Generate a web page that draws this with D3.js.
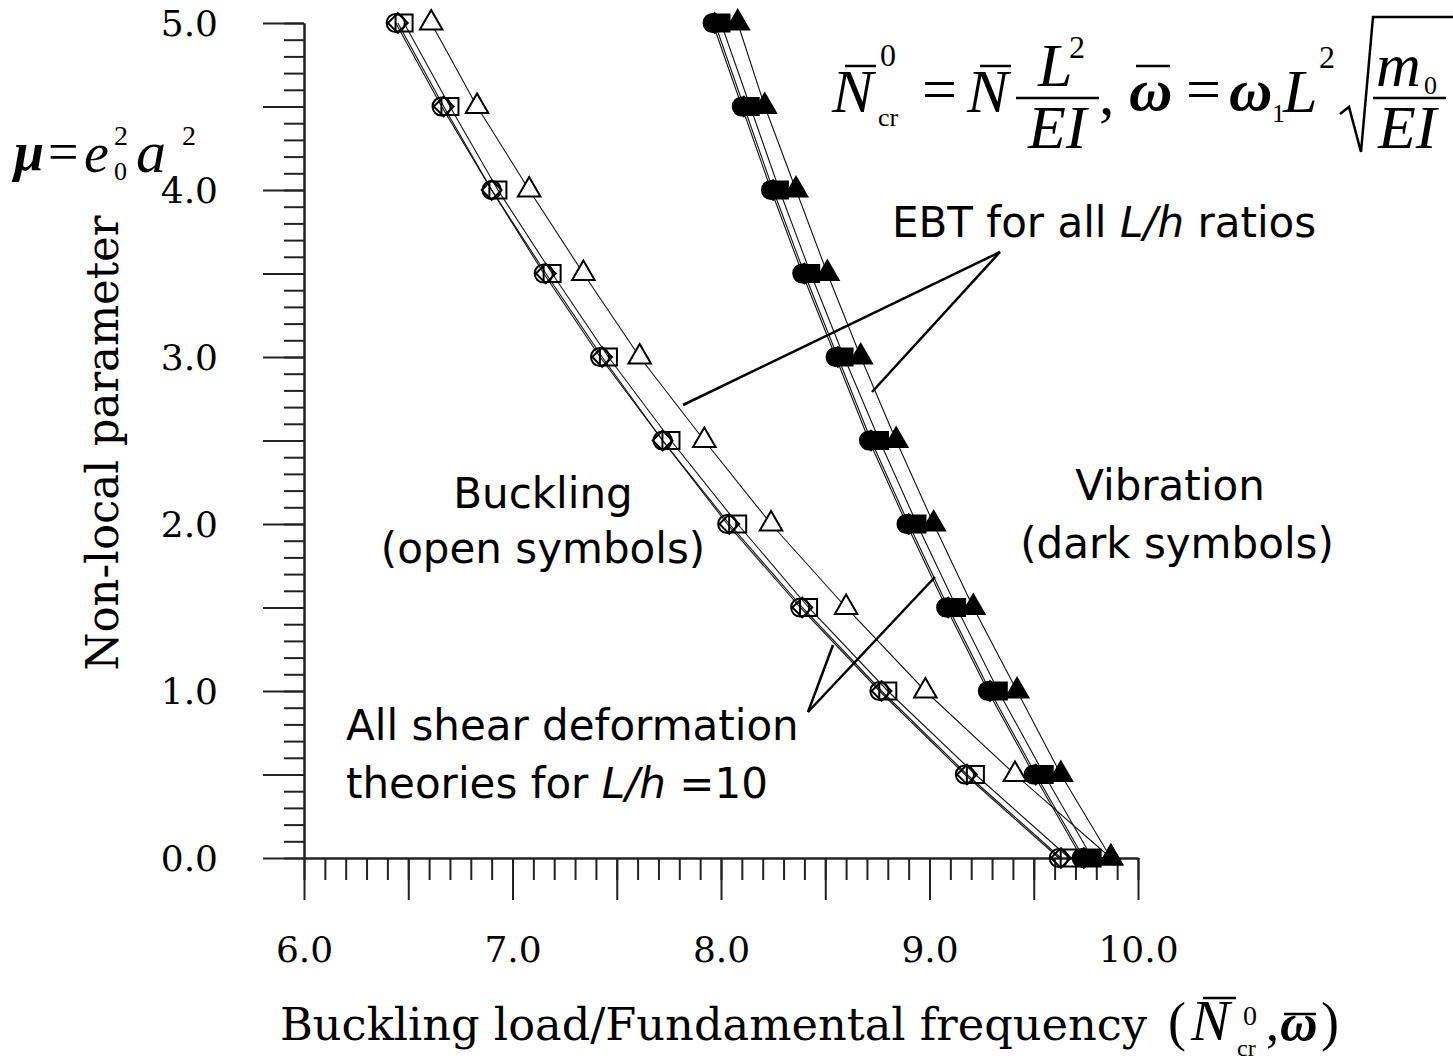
<!DOCTYPE html>
<html>
<head>
<meta charset="utf-8">
<script src="https://cdn.jsdelivr.net/npm/d3@7"></script>
<style>
body { margin: 0; background: #fff; }
</style>
</head>
<body>
<svg width="1453" height="1061"></svg>
<script>
// non-local parameter mu = e0^2 a^2
var mu = [0, 0.5, 1, 1.5, 2, 2.5, 3, 3.5, 4, 4.5, 5];

// buckling loads (open symbols)
var buckTBT = [9.62, 9.17, 8.76, 8.38, 8.03, 7.72, 7.42, 7.15, 6.90, 6.66, 6.44];
var buckRBT = [9.63, 9.18, 8.77, 8.39, 8.04, 7.72, 7.43, 7.16, 6.90, 6.67, 6.45];
var buckLBT = [9.67, 9.22, 8.80, 8.42, 8.08, 7.76, 7.46, 7.19, 6.93, 6.70, 6.48];
var buckEBT = [9.87, 9.41, 8.98, 8.60, 8.24, 7.92, 7.61, 7.34, 7.08, 6.83, 6.61];

// fundamental frequencies (dark symbols)
var vibTBT = [9.73, 9.50, 9.28, 9.08, 8.89, 8.71, 8.55, 8.39, 8.24, 8.10, 7.96];
var vibRBT = [9.74, 9.51, 9.29, 9.09, 8.90, 8.72, 8.56, 8.40, 8.25, 8.11, 7.97];
var vibLBT = [9.78, 9.55, 9.33, 9.13, 8.94, 8.76, 8.59, 8.43, 8.28, 8.14, 8.00];
var vibEBT = [9.87, 9.63, 9.42, 9.21, 9.02, 8.84, 8.67, 8.51, 8.36, 8.21, 8.08];

var xLabels = [6, 7, 8, 9, 10];
var yLabels = [0, 1, 2, 3, 4, 5];

var svg = d3.select("svg");
var x = d3.scaleLinear().domain([6, 10]).range([304, 1138]);
var y = d3.scaleLinear().domain([0, 5]).range([858, 23]);

var serif = "'DejaVu Serif', serif";
var mathf = "'Liberation Serif', 'Times New Roman', serif";
var sans = "'DejaVu Sans', Verdana, sans-serif";

// ---- axes ----
var xMinor = d3.range(41).map(function (i) { return 6 + i / 10; });
var xMajor = d3.range(9).map(function (i) { return 6 + i * 0.5; });
var yMinor = d3.range(51).map(function (i) { return i / 10; });
var yMajor = d3.range(11).map(function (i) { return i * 0.5; });

function fmtX(d) { return xLabels.indexOf(d) >= 0 ? d.toFixed(1) : ""; }
function fmtY(d) { return yLabels.indexOf(d) >= 0 ? d.toFixed(1) : ""; }

svg.append("g").attr("transform", "translate(0,858)")
    .call(d3.axisBottom(x).tickValues(xMinor).tickSize(22).tickSizeOuter(0).tickFormat(""));
svg.append("g").attr("class", "xmaj").attr("transform", "translate(0,858)")
    .call(d3.axisBottom(x).tickValues(xMajor).tickSize(42).tickSizeOuter(0).tickPadding(36).tickFormat(fmtX));
svg.append("g").attr("transform", "translate(304,0)")
    .call(d3.axisLeft(y).tickValues(yMinor).tickSize(20).tickSizeOuter(0).tickFormat(""));
svg.append("g").attr("class", "ymaj").attr("transform", "translate(304,0)")
    .call(d3.axisLeft(y).tickValues(yMajor).tickSize(41).tickSizeOuter(0).tickPadding(45).tickFormat(fmtY));

svg.selectAll(".domain").attr("stroke", "#222").attr("stroke-width", 2);
svg.selectAll(".tick line").attr("stroke", "#222").attr("stroke-width", 2);
svg.selectAll(".tick text").attr("font-family", serif).attr("font-size", 36).attr("fill", "#000");
svg.selectAll(".ymaj .tick text").attr("dy", "0.36em");

// ---- series ----
var series = [
    { vals: buckTBT, type: d3.symbolCircle, size: 260, fill: "none" },
    { vals: buckRBT, type: d3.symbolDiamond2, size: 250, fill: "none" },
    { vals: buckLBT, type: d3.symbolSquare, size: 290, fill: "none" },
    { vals: buckEBT, type: d3.symbolTriangle, size: 220, fill: "#fff" },
    { vals: vibTBT, type: d3.symbolCircle, size: 260, fill: "#000" },
    { vals: vibRBT, type: d3.symbolDiamond2, size: 250, fill: "#000" },
    { vals: vibLBT, type: d3.symbolSquare, size: 290, fill: "#000" },
    { vals: vibEBT, type: d3.symbolTriangle, size: 220, fill: "#000" }
];

var line = d3.line()
    .x(function (d) { return x(d.v); })
    .y(function (d) { return y(d.m); });

function pts(vals) {
    return vals.map(function (v, i) { return { v: v, m: mu[i] }; });
}

svg.append("g").selectAll("path")
    .data(series)
    .enter()
    .append("path")
    .attr("d", function (s) { return line(pts(s.vals)); })
    .attr("fill", "none")
    .attr("stroke", "#111")
    .attr("stroke-width", 1.1);

series.forEach(function (s) {
    svg.append("g").selectAll("path")
        .data(pts(s.vals))
        .enter()
        .append("path")
        .attr("transform", function (d) { return "translate(" + x(d.v) + "," + y(d.m) + ")"; })
        .attr("d", d3.symbol().type(s.type).size(s.size))
        .attr("fill", s.fill)
        .attr("stroke", "#000")
        .attr("stroke-width", 2);
});

// ---- text helpers ----
function txt(px, py, s, opt) {
    opt = opt || {};
    var t = svg.append("text")
        .attr("x", px).attr("y", py)
        .attr("font-family", opt.family || mathf)
        .attr("font-size", opt.size || 54)
        .attr("font-style", opt.style || "normal")
        .attr("font-weight", opt.weight || "normal")
        .attr("text-anchor", opt.anchor || "start")
        .attr("fill", "#000")
        .text(s);
    if (opt.len) t.attr("textLength", opt.len).attr("lengthAdjust", "spacingAndGlyphs");
    return t;
}
function bar(x1, x2, yy, w) {
    svg.append("line").attr("x1", x1).attr("x2", x2).attr("y1", yy).attr("y2", yy)
        .attr("stroke", "#000").attr("stroke-width", w || 2.5);
}

// axis titles
txt(280, 1040, "Buckling load/Fundamental frequency", { family: serif, size: 44, len: 867 });
txt(1168, 1040, "(", { size: 54 });
txt(1191, 1040, "N", { size: 58, style: "italic" });
bar(1203, 1236, 998, 2.5);
txt(1243, 1025, "0", { size: 28 });
txt(1237, 1056, "cr", { size: 24 });
txt(1266, 1040, ",", { size: 52 });
txt(1280, 1040, "\u03c9", { size: 52, style: "italic", weight: "bold" });
bar(1284, 1316, 1014, 2.5);
txt(1321, 1040, ")", { size: 54 });

svg.append("text")
    .attr("transform", "translate(118,443) rotate(-90)")
    .attr("text-anchor", "middle")
    .attr("font-family", serif).attr("font-size", 44)
    .attr("textLength", 455).attr("lengthAdjust", "spacingAndGlyphs")
    .text("Non-local parameter");

// mu = e0^2 a^2
txt(14, 170, "\u03bc", { size: 54, style: "italic", weight: "bold" });
txt(48, 170, "=", { size: 54 });
txt(84, 172, "e", { size: 56, style: "italic" });
txt(114, 145, "2", { size: 28 });
txt(114, 180, "0", { size: 26 });
txt(136, 172, "a", { size: 60, style: "italic" });
txt(182, 145, "2", { size: 28 });

// formula top right
txt(832, 112, "N", { size: 62, style: "italic" });
bar(845, 876, 66, 2.5);
txt(880, 66, "0", { size: 32 });
txt(878, 126, "cr", { size: 26 });
txt(922, 110, "=", { size: 62 });
txt(967, 112, "N", { size: 62, style: "italic" });
bar(980, 1011, 66, 2.5);
txt(1038, 86, "L", { size: 62, style: "italic" });
txt(1069, 58, "2", { size: 32 });
bar(1016, 1099, 98, 2.5);
txt(1028, 148, "EI", { size: 62, style: "italic" });
txt(1099, 114, ",", { size: 62 });
txt(1129, 110, "\u03c9", { size: 60, style: "italic", weight: "bold" });
bar(1136, 1170, 66, 2.5);
txt(1186, 110, "=", { size: 62 });
txt(1229, 110, "\u03c9", { size: 60, style: "italic", weight: "bold" });
txt(1272, 122, "1", { size: 26 });
txt(1283, 112, "L", { size: 62, style: "italic" });
txt(1319, 68, "2", { size: 32 });
svg.append("path")
    .attr("d", "M1340,114 L1349,107 L1361,152 L1373,17 L1453,17")
    .attr("fill", "none").attr("stroke", "#000").attr("stroke-width", 2.5);
txt(1376, 86, "m", { size: 62, style: "italic" });
txt(1424, 94, "0", { size: 26 });
bar(1373, 1446, 98, 2.5);
txt(1378, 148, "EI", { size: 62, style: "italic" });

// annotations
txt(543, 508, "Buckling", { family: sans, size: 42, anchor: "middle" });
txt(543, 563, "(open symbols)", { family: sans, size: 42, anchor: "middle" });
txt(1170, 500, "Vibration", { family: sans, size: 42, anchor: "middle" });
txt(1177, 558, "(dark symbols)", { family: sans, size: 42, anchor: "middle" });

var ebt = svg.append("text").attr("x", 892).attr("y", 237)
    .attr("font-family", sans).attr("font-size", 42);
ebt.append("tspan").text("EBT for all ");
ebt.append("tspan").attr("font-style", "italic").text("L/h");
ebt.append("tspan").text(" ratios");

txt(346, 740, "All shear deformation", { family: sans, size: 42 });
var th = svg.append("text").attr("x", 346).attr("y", 798)
    .attr("font-family", sans).attr("font-size", 42);
th.append("tspan").text("theories for ");
th.append("tspan").attr("font-style", "italic").text("L/h");
th.append("tspan").text(" =10");

// leader lines
var leaders = [
    [1000, 252, 683, 405],
    [1000, 252, 872, 392],
    [808, 712, 833, 645],
    [808, 712, 935, 577]
];
svg.append("g").selectAll("line")
    .data(leaders)
    .enter()
    .append("line")
    .attr("x1", function (d) { return d[0]; })
    .attr("y1", function (d) { return d[1]; })
    .attr("x2", function (d) { return d[2]; })
    .attr("y2", function (d) { return d[3]; })
    .attr("stroke", "#000")
    .attr("stroke-width", 2.5);
</script>
</body>
</html>
